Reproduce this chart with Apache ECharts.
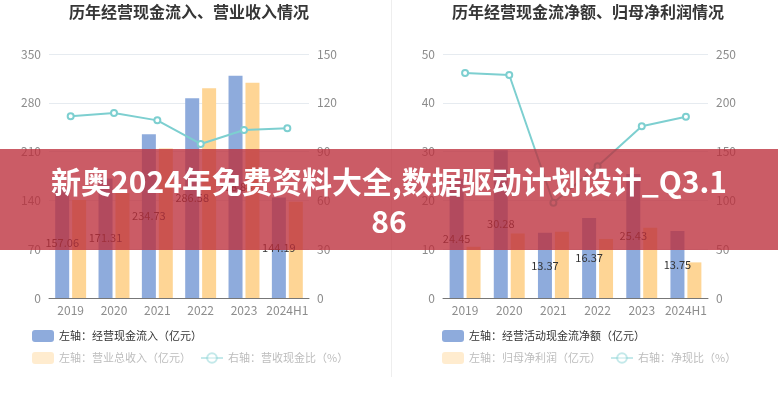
<!DOCTYPE html>
<html>
<head>
<meta charset="utf-8">
<script src="https://cdn.jsdelivr.net/npm/echarts@6/dist/echarts.min.js"></script>
<style>
html,body{margin:0;padding:0;background:#fff;}
#main{width:778px;height:400px;}
</style>
</head>
<body>
<div id="main"></div>
<script>
const categories = ['2019', '2020', '2021', '2022', '2023', '2024H1'];
// Left chart
const cashInflow = [157.06, 171.31, 234.73, 286.58, 318.84, 144.19];
const revenue = [140.6, 150.6, 214.5, 301.0, 308.6, 138.2];
const cashRevenueRatio = [111.7, 113.7, 109.2, 94.7, 103.3, 104.3];
// Right chart
const netCashFlow = [24.45, 30.28, 13.37, 16.37, 25.43, 13.75];
const netProfit = [10.5, 13.2, 13.6, 12.1, 14.4, 7.3];
const netCashRatio = [230.5, 228.5, 97.6, 135.0, 176.0, 185.8];

const leftTicks = { min: 0, max: 350, interval: 70 };
const leftTicksR = { min: 0, max: 150, interval: 30 };
const rightTicks = { min: 0, max: 50, interval: 10 };
const rightTicksR = { min: 0, max: 250, interval: 50 };

const BLUE = '#8eabdc';
const ORANGE = '#fed595';
const TEAL = '#7dcfd0';
const FONT = '"Noto Sans CJK SC", "Noto Sans", sans-serif';

const chart = echarts.init(document.getElementById('main'), null, { renderer: 'canvas' });

function yAx(gridIndex, t, pos) {
  return {
    type: 'value', gridIndex: gridIndex, position: pos,
    min: t.min, max: t.max, interval: t.interval,
    axisLine: { show: false }, axisTick: { show: false },
    axisLabel: { color: '#8c8c8c', fontSize: 12, margin: 8, fontFamily: FONT },
    splitLine: { show: pos === 'left', lineStyle: { color: '#e6ebf0' } }
  };
}
function xAx(gridIndex) {
  return {
    type: 'category', gridIndex: gridIndex, data: categories,
    axisLine: { lineStyle: { color: '#777' } },
    axisTick: { alignWithLabel: true, interval: 0, lineStyle: { color: '#777' } },
    axisLabel: { color: '#8c8c8c', fontSize: 12, margin: 6, interval: 0, fontFamily: FONT }
  };
}
const barLabel = { show: true, position: 'inside', color: '#333', fontSize: 11, fontFamily: FONT };

const fadedText = { color: '#bdbdbd', fontSize: 11, fontFamily: FONT };
const normText = { color: '#333', fontSize: 11, fontFamily: FONT };

function legends(left, n1, n2, n3) {
  return [
    { left: left, top: 330, itemWidth: 22, itemHeight: 12, itemGap: 9, padding: 0,
      textStyle: normText, selectedMode: false,
      data: [{ name: n1, icon: 'roundRect' }] },
    { left: left, top: 352, itemWidth: 22, itemHeight: 12, itemGap: 9, padding: 0,
      textStyle: fadedText, selectedMode: false,
      data: [
        { name: n2, icon: 'roundRect', itemStyle: { opacity: 0.45 }, textStyle: fadedText },
        { name: n3, itemStyle: { opacity: 0.45 }, lineStyle: { opacity: 0.45 }, textStyle: fadedText }
      ] }
  ];
}

const option = {
  animation: false,
  backgroundColor: '#fff',
  title: [
    { text: '历年经营现金流入、营业收入情况', left: 189, top: 4, textAlign: 'center', padding: 0,
      textStyle: { fontSize: 16, fontWeight: 'bold', color: '#363636', fontFamily: FONT } },
    { text: '历年经营现金流净额、归母净利润情况', left: 588, top: 4, textAlign: 'center', padding: 0,
      textStyle: { fontSize: 16, fontWeight: 'bold', color: '#363636', fontFamily: FONT } }
  ],
  legend: []
    .concat(legends(32, '左轴：经营现金流入（亿元）', '左轴：营业总收入（亿元）', '右轴：营收现金比（%）'))
    .concat(legends(442, '左轴：经营活动现金流净额（亿元）', '左轴：归母净利润（亿元）', '右轴：净现比（%）')),
  grid: [
    { left: 49, width: 260, top: 54, height: 244 },
    { left: 443, width: 265, top: 54, height: 244 }
  ],
  xAxis: [xAx(0), xAx(1)],
  yAxis: [
    yAx(0, leftTicks, 'left'), yAx(0, leftTicksR, 'right'),
    yAx(1, rightTicks, 'left'), yAx(1, rightTicksR, 'right')
  ],
  series: [
    { name: '左轴：经营现金流入（亿元）', type: 'bar', xAxisIndex: 0, yAxisIndex: 0,
      data: cashInflow, barWidth: 14, barGap: '21%', itemStyle: { color: BLUE }, label: barLabel },
    { name: '左轴：营业总收入（亿元）', type: 'bar', xAxisIndex: 0, yAxisIndex: 0,
      data: revenue, barWidth: 14, barGap: '21%', itemStyle: { color: ORANGE } },
    { name: '右轴：营收现金比（%）', type: 'line', xAxisIndex: 0, yAxisIndex: 1,
      data: cashRevenueRatio, symbol: 'emptyCircle', symbolSize: 6,
      lineStyle: { color: TEAL, width: 2 }, itemStyle: { color: TEAL } },
    { name: '左轴：经营活动现金流净额（亿元）', type: 'bar', xAxisIndex: 1, yAxisIndex: 2,
      data: netCashFlow, barWidth: 14, barGap: '21%', itemStyle: { color: BLUE }, label: barLabel },
    { name: '左轴：归母净利润（亿元）', type: 'bar', xAxisIndex: 1, yAxisIndex: 2,
      data: netProfit, barWidth: 14, barGap: '21%', itemStyle: { color: ORANGE } },
    { name: '右轴：净现比（%）', type: 'line', xAxisIndex: 1, yAxisIndex: 3,
      data: netCashRatio, symbol: 'emptyCircle', symbolSize: 6,
      lineStyle: { color: TEAL, width: 2 }, itemStyle: { color: TEAL } }
  ],
  graphic: [
    { type: 'line', shape: { x1: 391.5, y1: 0, x2: 391.5, y2: 377 }, style: { stroke: '#eeeeee', lineWidth: 1 }, z: 1 },
    { type: 'rect', shape: { x: 0, y: 149, width: 778, height: 101 },
      style: { fill: 'rgba(188,46,59,0.78)' }, z: 100 },
    { type: 'text', x: 389, y: 202, z: 101,
      style: { text: '新奥2024年免费资料大全,数据驱动计划设计_Q3.1\n86', fill: '#fff',
        font: 'bold 30px "Noto Sans CJK SC", sans-serif', textAlign: 'center', textVerticalAlign: 'middle',
        lineHeight: 40 } }
  ]
};
chart.setOption(option);
</script>
</body>
</html>
